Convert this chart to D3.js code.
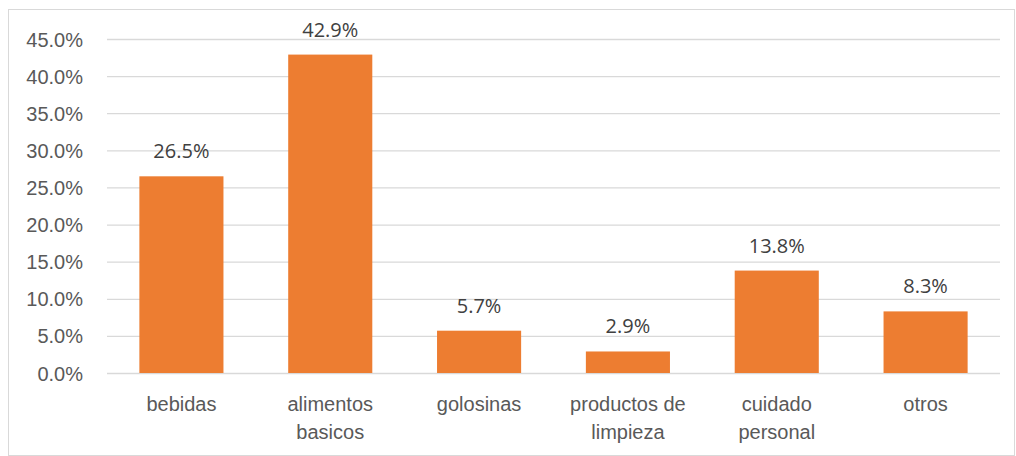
<!DOCTYPE html>
<html>
<head>
<meta charset="utf-8">
<script src="https://cdn.jsdelivr.net/npm/d3@7"></script>
<style>
  html, body { margin: 0; padding: 0; background: #fff; }
  svg { display: block; font-family: "Open Sans", "Liberation Sans", sans-serif; }
</style>
</head>
<body>
<svg id="chart" width="1016" height="456"></svg>
<script>
// Share of purchases by product category (percent)
const categories = [
  ["bebidas"],
  ["alimentos", "basicos"],
  ["golosinas"],
  ["productos de", "limpieza"],
  ["cuidado", "personal"],
  ["otros"]
];
const values = [26.5, 42.9, 5.7, 2.9, 13.8, 8.3];
const yTicks = [0, 5, 10, 15, 20, 25, 30, 35, 40, 45];

const svg = d3.select("#chart");
const plot = { left: 107, right: 1000, top: 39, bottom: 373 };

// outer frame
svg.append("rect")
  .attr("x", 8.5).attr("y", 9.5)
  .attr("width", 1006).attr("height", 446)
  .attr("fill", "none").attr("stroke", "#d9d9d9").attr("stroke-width", 1);

const keys = categories.map(c => c.join(" "));
const x = d3.scaleBand()
  .domain(keys)
  .range([plot.left, plot.right])
  .paddingInner(0.435)
  .paddingOuter(0.2175);

const y = d3.scaleLinear()
  .domain([0, 45])
  .range([plot.bottom, plot.top]);

// gridlines + tick labels
const yAxis = d3.axisLeft(y)
  .tickValues(yTicks)
  .tickSize(-(plot.right - plot.left))
  .tickPadding(24)
  .tickFormat(d => d.toFixed(1) + "%");

const gy = svg.append("g")
  .attr("transform", `translate(${plot.left},0)`)
  .call(yAxis);
gy.select(".domain").remove();
gy.selectAll(".tick line").attr("stroke", "#d9d9d9").attr("stroke-width", 1.3);
gy.selectAll(".tick text")
  .attr("fill", "#595959")
  .attr("font-size", 20)
  .attr("dy", "0.35em");

// bars
svg.append("g").selectAll("rect")
  .data(values)
  .join("rect")
  .attr("x", (d, i) => x(keys[i]))
  .attr("width", x.bandwidth())
  .attr("y", d => y(d))
  .attr("height", d => y(0) - y(d))
  .attr("fill", "#ED7D31");

// value labels
svg.append("g").selectAll("text")
  .data(values)
  .join("text")
  .attr("x", (d, i) => x(keys[i]) + x.bandwidth() / 2)
  .attr("y", d => y(d) - 18)
  .attr("text-anchor", "middle")
  .attr("fill", "#404040")
  .attr("font-size", 20)
  .text(d => d.toFixed(1) + "%");

// category labels (wrapped onto two lines where needed)
const xAxis = d3.axisBottom(x).tickSize(0).tickFormat(() => "");
const gx = svg.append("g")
  .attr("transform", `translate(0,${plot.bottom})`)
  .call(xAxis);
gx.select(".domain").remove();
gx.selectAll(".tick").each(function(d, i) {
  const t = d3.select(this).append("text")
    .attr("text-anchor", "middle")
    .attr("fill", "#595959")
    .attr("font-size", 20);
  categories[i].forEach((line, k) => {
    t.append("tspan").attr("x", 0).attr("y", 38 + k * 28).text(line);
  });
});
</script>
</body>
</html>
